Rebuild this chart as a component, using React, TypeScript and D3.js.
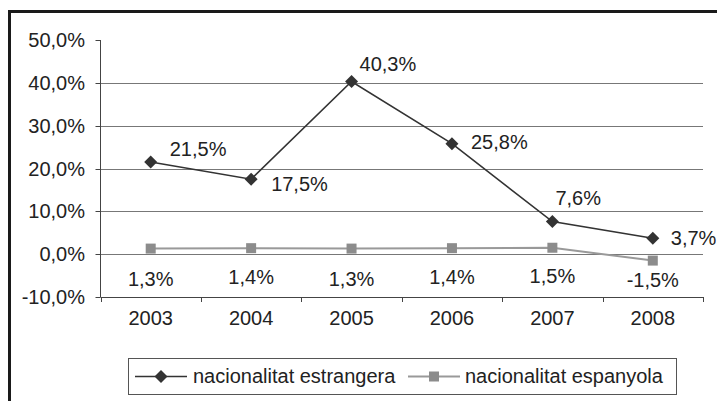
import React, { useRef, useEffect } from "react";
import { select, scaleLinear, scaleBand, line, range } from "d3";

const years = ["2003", "2004", "2005", "2006", "2007", "2008"];
const estrangera = [21.5, 17.5, 40.3, 25.8, 7.6, 3.7];
const espanyola = [1.3, 1.4, 1.3, 1.4, 1.5, -1.5];
const yTicks = [-10, 0, 10, 20, 30, 40, 50];
const seriesNames = ["nacionalitat estrangera", "nacionalitat espanyola"];

// label placement relative to each point (dx, dy, anchor)
const estrangeraLabelPos: [number, number, string][] = [
  [19, -13, "start"],
  [20, 5, "start"],
  [8, -18, "start"],
  [19, -2, "start"],
  [3, -24, "start"],
  [18, 0, "start"],
];
const espanyolaLabelPos: [number, number, string][] = [
  [0, 30, "middle"],
  [0, 29, "middle"],
  [0, 30, "middle"],
  [0, 29, "middle"],
  [0, 28, "middle"],
  [0, 19, "middle"],
];

const fmt = (v: number) => v.toFixed(1).replace(".", ",") + "%";

const W = 717;
const H = 401;
const plotLeft = 100.5;
const plotRight = 703;
const plotTop = 40;
const plotBottom = 297;
const FONT = "'Liberation Sans', Arial, sans-serif";
const FS = 20;

const Chart: React.FC = () => {
  const svgRef = useRef<SVGSVGElement>(null);

  useEffect(() => {
    const svg = select(svgRef.current);
    svg.selectAll("*").remove();

    const y = scaleLinear().domain([-10, 50]).range([plotBottom, plotTop]);
    const x = scaleBand().domain(years).range([plotLeft, plotRight]);
    const cx = (i: number) => x(years[i])! + x.bandwidth() / 2;

    // outer frame
    svg
      .append("rect")
      .attr("x", 9.5)
      .attr("y", 11.5)
      .attr("width", 740)
      .attr("height", 420)
      .attr("fill", "white")
      .attr("stroke", "#1a1a1a")
      .attr("stroke-width", 3);

    // gridlines
    svg
      .append("g")
      .selectAll("line")
      .data(yTicks.filter((t) => t !== -10 && t !== 50))
      .join("line")
      .attr("x1", plotLeft)
      .attr("x2", plotRight)
      .attr("y1", (d) => Math.round(y(d)) + 0.5)
      .attr("y2", (d) => Math.round(y(d)) + 0.5)
      .attr("stroke", "#777")
      .attr("stroke-width", 1);

    // y axis
    const ya = svg.append("g");
    ya.append("line")
      .attr("x1", plotLeft)
      .attr("x2", plotLeft)
      .attr("y1", y(50))
      .attr("y2", y(-10))
      .attr("stroke", "#444");
    ya.selectAll("line.tick")
      .data(yTicks)
      .join("line")
      .attr("class", "tick")
      .attr("x1", plotLeft - 5)
      .attr("x2", plotLeft)
      .attr("y1", (d) => Math.round(y(d)) + 0.5)
      .attr("y2", (d) => Math.round(y(d)) + 0.5)
      .attr("stroke", "#444");
    ya.selectAll("text")
      .data(yTicks)
      .join("text")
      .attr("x", 85)
      .attr("y", (d) => y(d))
      .attr("text-anchor", "end")
      .attr("dominant-baseline", "central")
      .attr("font-family", FONT)
      .attr("font-size", FS)
      .attr("fill", "#222")
      .text((d) => fmt(d));

    // x axis
    const xa = svg.append("g");
    xa.append("line")
      .attr("x1", plotLeft)
      .attr("x2", plotRight)
      .attr("y1", Math.round(y(-10)) + 0.5)
      .attr("y2", Math.round(y(-10)) + 0.5)
      .attr("stroke", "#444");
    xa.selectAll("line.tick")
      .data(range(years.length + 1))
      .join("line")
      .attr("class", "tick")
      .attr("x1", (i) => Math.round(plotLeft + i * x.bandwidth()) + 0.5)
      .attr("x2", (i) => Math.round(plotLeft + i * x.bandwidth()) + 0.5)
      .attr("y1", y(-10))
      .attr("y2", y(-10) + 5)
      .attr("stroke", "#444");
    xa.selectAll("text")
      .data(years)
      .join("text")
      .attr("x", (_, i) => cx(i))
      .attr("y", 318)
      .attr("text-anchor", "middle")
      .attr("dominant-baseline", "central")
      .attr("font-family", FONT)
      .attr("font-size", FS)
      .attr("fill", "#222")
      .text((d) => d);

    const lineGen = line<number>()
      .x((_, i) => cx(i))
      .y((d) => y(d));

    // espanyola series
    svg
      .append("path")
      .attr("d", lineGen(espanyola)!)
      .attr("fill", "none")
      .attr("stroke", "#999")
      .attr("stroke-width", 2);
    svg
      .append("g")
      .selectAll("rect")
      .data(espanyola)
      .join("rect")
      .attr("x", (_, i) => cx(i) - 5)
      .attr("y", (d) => y(d) - 5)
      .attr("width", 10)
      .attr("height", 10)
      .attr("fill", "#8c8c8c");

    // estrangera series
    svg
      .append("path")
      .attr("d", lineGen(estrangera)!)
      .attr("fill", "none")
      .attr("stroke", "#333")
      .attr("stroke-width", 1.6);
    svg
      .append("g")
      .selectAll("path")
      .data(estrangera)
      .join("path")
      .attr("transform", (d, i) => `translate(${cx(i)},${y(d)})`)
      .attr("d", "M0,-6.5L6.5,0L0,6.5L-6.5,0Z")
      .attr("fill", "#333");

    // data labels
    const labels = svg.append("g").attr("font-family", FONT).attr("font-size", FS).attr("fill", "#222");
    estrangera.forEach((v, i) => {
      const [dx, dy, anchor] = estrangeraLabelPos[i];
      labels
        .append("text")
        .attr("x", cx(i) + dx)
        .attr("y", y(v) + dy)
        .attr("text-anchor", anchor)
        .attr("dominant-baseline", "central")
        .text(fmt(v));
    });
    espanyola.forEach((v, i) => {
      const [dx, dy, anchor] = espanyolaLabelPos[i];
      labels
        .append("text")
        .attr("x", cx(i) + dx)
        .attr("y", y(v) + dy)
        .attr("text-anchor", anchor)
        .attr("dominant-baseline", "central")
        .text(fmt(v));
    });

    // legend
    const lg = svg.append("g");
    lg.append("rect")
      .attr("x", 128.5)
      .attr("y", 358.5)
      .attr("width", 548)
      .attr("height", 36)
      .attr("fill", "white")
      .attr("stroke", "#555");
    const items = [
      { x1: 135, x2: 187, tx: 193, color: "#333", shape: "diamond" },
      { x1: 408, x2: 460, tx: 465, color: "#999", shape: "square" },
    ];
    items.forEach((it, i) => {
      const mid = (it.x1 + it.x2) / 2;
      lg.append("line")
        .attr("x1", it.x1)
        .attr("x2", it.x2)
        .attr("y1", 376.5)
        .attr("y2", 376.5)
        .attr("stroke", it.color)
        .attr("stroke-width", it.shape === "square" ? 2 : 1.6);
      if (it.shape === "diamond") {
        lg.append("path")
          .attr("transform", `translate(${mid},376.5)`)
          .attr("d", "M0,-6.5L6.5,0L0,6.5L-6.5,0Z")
          .attr("fill", "#333");
      } else {
        lg.append("rect")
          .attr("x", mid - 5)
          .attr("y", 371.5)
          .attr("width", 10)
          .attr("height", 10)
          .attr("fill", "#8c8c8c");
      }
      lg.append("text")
        .attr("x", it.tx)
        .attr("y", 376)
        .attr("dominant-baseline", "central")
        .attr("font-family", FONT)
        .attr("font-size", FS)
        .attr("fill", "#222")
        .text(seriesNames[i]);
    });
  }, []);

  return (
    <svg
      ref={svgRef}
      width={W}
      height={H}
      style={{ position: "absolute", left: 0, top: 0, background: "white" }}
    ></svg>
  );
};

export default function App() {
  return <Chart />;
}
